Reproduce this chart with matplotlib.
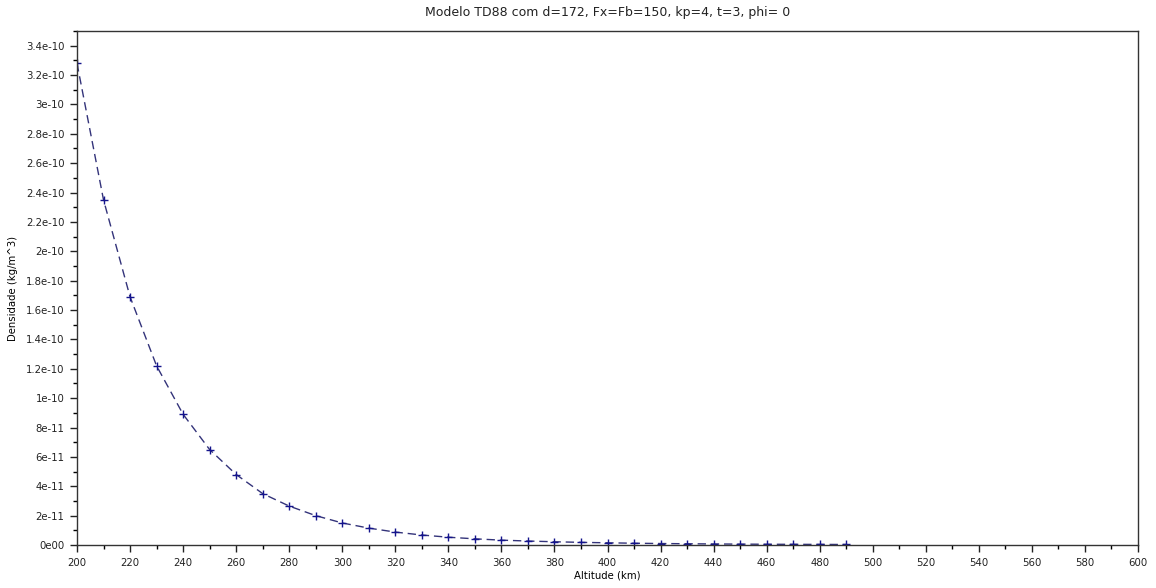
import numpy as np
import matplotlib
matplotlib.use("Agg")
import matplotlib.pyplot as plt
from matplotlib.ticker import MultipleLocator, FuncFormatter

# altitude (km) and density (kg/m^3)
altitude = [200, 210, 220, 230, 240, 250, 260, 270, 280, 290,
            300, 310, 320, 330, 340, 350, 360, 370, 380, 390,
            400, 410, 420, 430, 440, 450, 460, 470, 480, 490]
density = [3.28e-10, 2.35e-10, 1.69e-10, 1.22e-10, 8.9e-11, 6.5e-11, 4.8e-11, 3.5e-11, 2.65e-11, 2.0e-11,
           1.5e-11, 1.15e-11, 8.8e-12, 6.8e-12, 5.3e-12, 4.2e-12, 3.3e-12, 2.7e-12, 2.2e-12, 1.8e-12,
           1.5e-12, 1.2e-12, 1.0e-12, 0.85e-12, 0.7e-12, 0.6e-12, 0.5e-12, 0.45e-12, 0.4e-12, 0.35e-12]

title = "Modelo TD88 com d=172, Fx=Fb=150, kp=4, t=3, phi= 0"


def sci_label(v, pos):
    # scilab style labels: 3.4e-10, 3e-10, 8e-11, 0e00
    if abs(v) < 1e-15:
        return "0e00"
    m, e = f"{v:.1e}".split("e")
    m = m.rstrip("0").rstrip(".")
    return f"{m}e{int(e)}"


plt.rcParams["font.family"] = ["DejaVu Sans"]

fig = plt.figure(figsize=(11.56, 5.88), dpi=100)
ax = fig.add_axes([77 / 1156, 1 - 545 / 588, (1138 - 77) / 1156, (545 - 31) / 588])

ax.plot(altitude, density, linestyle=(0, (6, 3.5)), color="#33337a", linewidth=1.0,
        marker="+", markersize=6, markeredgewidth=1.0, markeredgecolor="#14148c")

ax.set_xlim(200, 600)
ax.set_ylim(0, 3.5e-10)

ax.xaxis.set_major_locator(MultipleLocator(20))
ax.xaxis.set_minor_locator(MultipleLocator(10))
ax.yaxis.set_major_locator(MultipleLocator(2e-11))
ax.yaxis.set_minor_locator(MultipleLocator(1e-11))
ax.yaxis.set_major_formatter(FuncFormatter(sci_label))
ax.yaxis.get_offset_text().set_visible(False)

ax.tick_params(axis="both", which="major", direction="out", length=5, width=1,
               labelsize=7.3, colors="#222222", top=False, right=False, pad=4)
ax.tick_params(axis="both", which="minor", direction="out", length=3, width=1,
               top=False, right=False)
for s in ax.spines.values():
    s.set_color("#333333")
    s.set_linewidth(1.0)

ax.set_xlabel("Altitude (km)", fontsize=7.3, labelpad=2)
ax.set_ylabel("Densidade (kg/m^3)", fontsize=7.3, labelpad=6)
ax.set_title(title, fontsize=9, pad=11, color="#222222")

fig.savefig("out.png", dpi=100)
